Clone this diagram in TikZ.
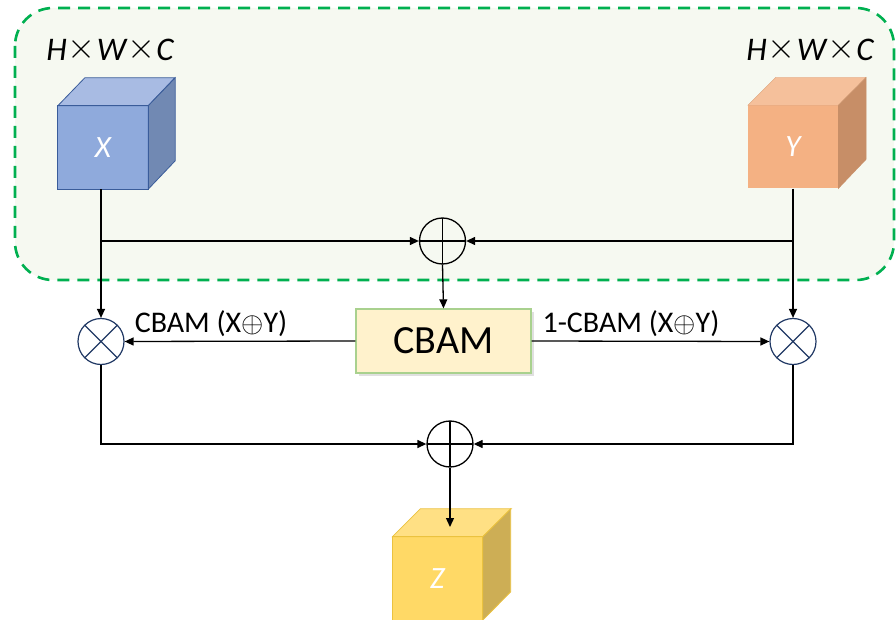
\documentclass[tikz,border=0pt]{standalone}
\usepackage{fontspec}
\setmainfont{Carlito}
\usetikzlibrary{arrows.meta}
\definecolor{boxfill}{HTML}{F6F9F1}
\definecolor{boxline}{HTML}{00B050}
\definecolor{xfront}{HTML}{8FAADC}
\definecolor{xtop}{HTML}{A8BBE3}
\definecolor{xright}{HTML}{7189B3}
\definecolor{xedge}{HTML}{3A5C9A}
\definecolor{yfront}{HTML}{F4B183}
\definecolor{ytop}{HTML}{F5C09B}
\definecolor{yright}{HTML}{C78E67}
\definecolor{zfront}{HTML}{FFD966}
\definecolor{ztop}{HTML}{FFE084}
\definecolor{zright}{HTML}{CDAE55}
\definecolor{zedge}{HTML}{EBC23F}
\definecolor{cbfill}{HTML}{FFF2CC}
\definecolor{cbedge}{HTML}{A9D18E}
\definecolor{navy}{HTML}{203864}
\tikzset{
  arr/.style={line width=1.3pt,-{Triangle[length=9pt,width=8pt]}},
  cubefront/.style={minimum width=90pt,minimum height=83pt,inner sep=0pt,font=\fontsize{31}{31}\selectfont\itshape,text=white},
  opl/.style={circle,draw=black,line width=1.3pt,minimum size=46pt,inner sep=0pt,
    path picture={\draw[line width=1.3pt] (path picture bounding box.north) -- (path picture bounding box.south)
      (path picture bounding box.west) -- (path picture bounding box.east);}},
  otm/.style={circle,draw=navy,line width=1.2pt,minimum size=46pt,inner sep=0pt,
    path picture={\draw[navy,line width=1.2pt] (path picture bounding box.north west) -- (path picture bounding box.south east)
      (path picture bounding box.south west) -- (path picture bounding box.north east);}},
  lbl/.style={font=\fontsize{30}{30}\selectfont},
  dim/.style={font=\fontsize{33}{33}\selectfont\itshape}
}
\newcommand\mytimes{\hspace{1pt}\raisebox{2pt}{\scalebox{1.45}{$\times$}}\hspace{1pt}}
\newcommand\myoplus{\raisebox{0.5pt}{\scalebox{1.15}{$\oplus$}}}
\begin{document}
\begin{tikzpicture}[x=1pt,y=-1pt]
\useasboundingbox (0,0) rectangle (896,620);
\clip (0,0) rectangle (896,620);
% dashed group
\draw[boxline,fill=boxfill,line width=2.6pt,dash pattern=on 12pt off 8pt,rounded corners=38pt] (15,8) rectangle (894,280);

% cube X
\node[cubefront,fill=xfront] (X) at (103,147.5) {X};
\draw[xedge,line width=0.8pt,fill=xtop] (X.north west) -- ++(27,-28) -- ++(90,0) -- (X.north east) -- cycle;
\draw[xedge,line width=0.8pt,fill=xright] (X.north east) -- ++(27,-28) -- ++(0,83) -- (X.south east) -- cycle;
\draw[xedge,line width=0.8pt] (X.north west) rectangle (X.south east);
\node[dim] (dx) at (110,49) {H\mytimes W\mytimes C};

% cube Y
\node[cubefront,fill=yfront] (Y) at (793,147) {Y};
\draw[yfront!90!black,line width=0.3pt,fill=ytop] (Y.north west) -- ++(28,-28) -- ++(90,0) -- (Y.north east) -- cycle;
\draw[yright,line width=0.3pt,fill=yright] (Y.north east) -- ++(28,-28) -- ++(0,82) -- (Y.south east) -- cycle;
\node[dim] (dy) at (810,49) {H\mytimes W\mytimes C};

% operators
\node[opl] (pt) at (442.5,241) {};
\node[otm] (ml) at (101,341.5) {};
\node[otm] (mr) at (793,341.5) {};
\node[opl] (pb) at (450,444) {};

% CBAM
\fill[black!12] (359,312) rectangle (534,376);
\node[draw=cbedge,fill=cbfill,line width=1.3pt,minimum width=175pt,minimum height=64pt,inner sep=0pt,font=\fontsize{40}{40}\selectfont] (cb) at (443.5,341) {CBAM};

% cube Z
\node[cubefront,fill=zfront] (Z) at (437.5,578.5) {Z};
\draw[zedge,line width=0.8pt,fill=ztop] (Z.north west) -- ++(28,-28) -- ++(91,0) -- (Z.north east) -- cycle;
\draw[zedge,line width=0.8pt,fill=zright] (Z.north east) -- ++(28,-28) -- ++(0,83) -- (Z.south east) -- cycle;
\draw[zedge,line width=0.8pt] (Z.north west) rectangle (Z.south east);
\coordinate (zin) at (450,527);

% connectors
\draw[arr] (ml.north |- X.south) -- (ml.north);
\draw[arr] (mr.north |- Y.south) -- (mr.north);
\draw[arr] (ml |- pt) -- (pt.west);
\draw[arr] (mr |- pt) -- (pt.east);
\draw[arr] (pt.south) -- (cb.north);
\draw[arr] (cb.west) -- (ml.east);
\draw[arr] (cb.east) -- (mr.west);
\draw[arr] (ml.south) -- (ml |- pb) -- (pb.west);
\draw[arr] (mr.south) -- (mr |- pb) -- (pb.east);
\draw[arr] (pb.south) -- (zin);

% labels
\node[lbl] (l1) at (211,324) {CBAM (X\myoplus Y)};
\node[lbl] (l2) at (631,324) {1-CBAM (X\myoplus Y)};
\end{tikzpicture}
\end{document}
